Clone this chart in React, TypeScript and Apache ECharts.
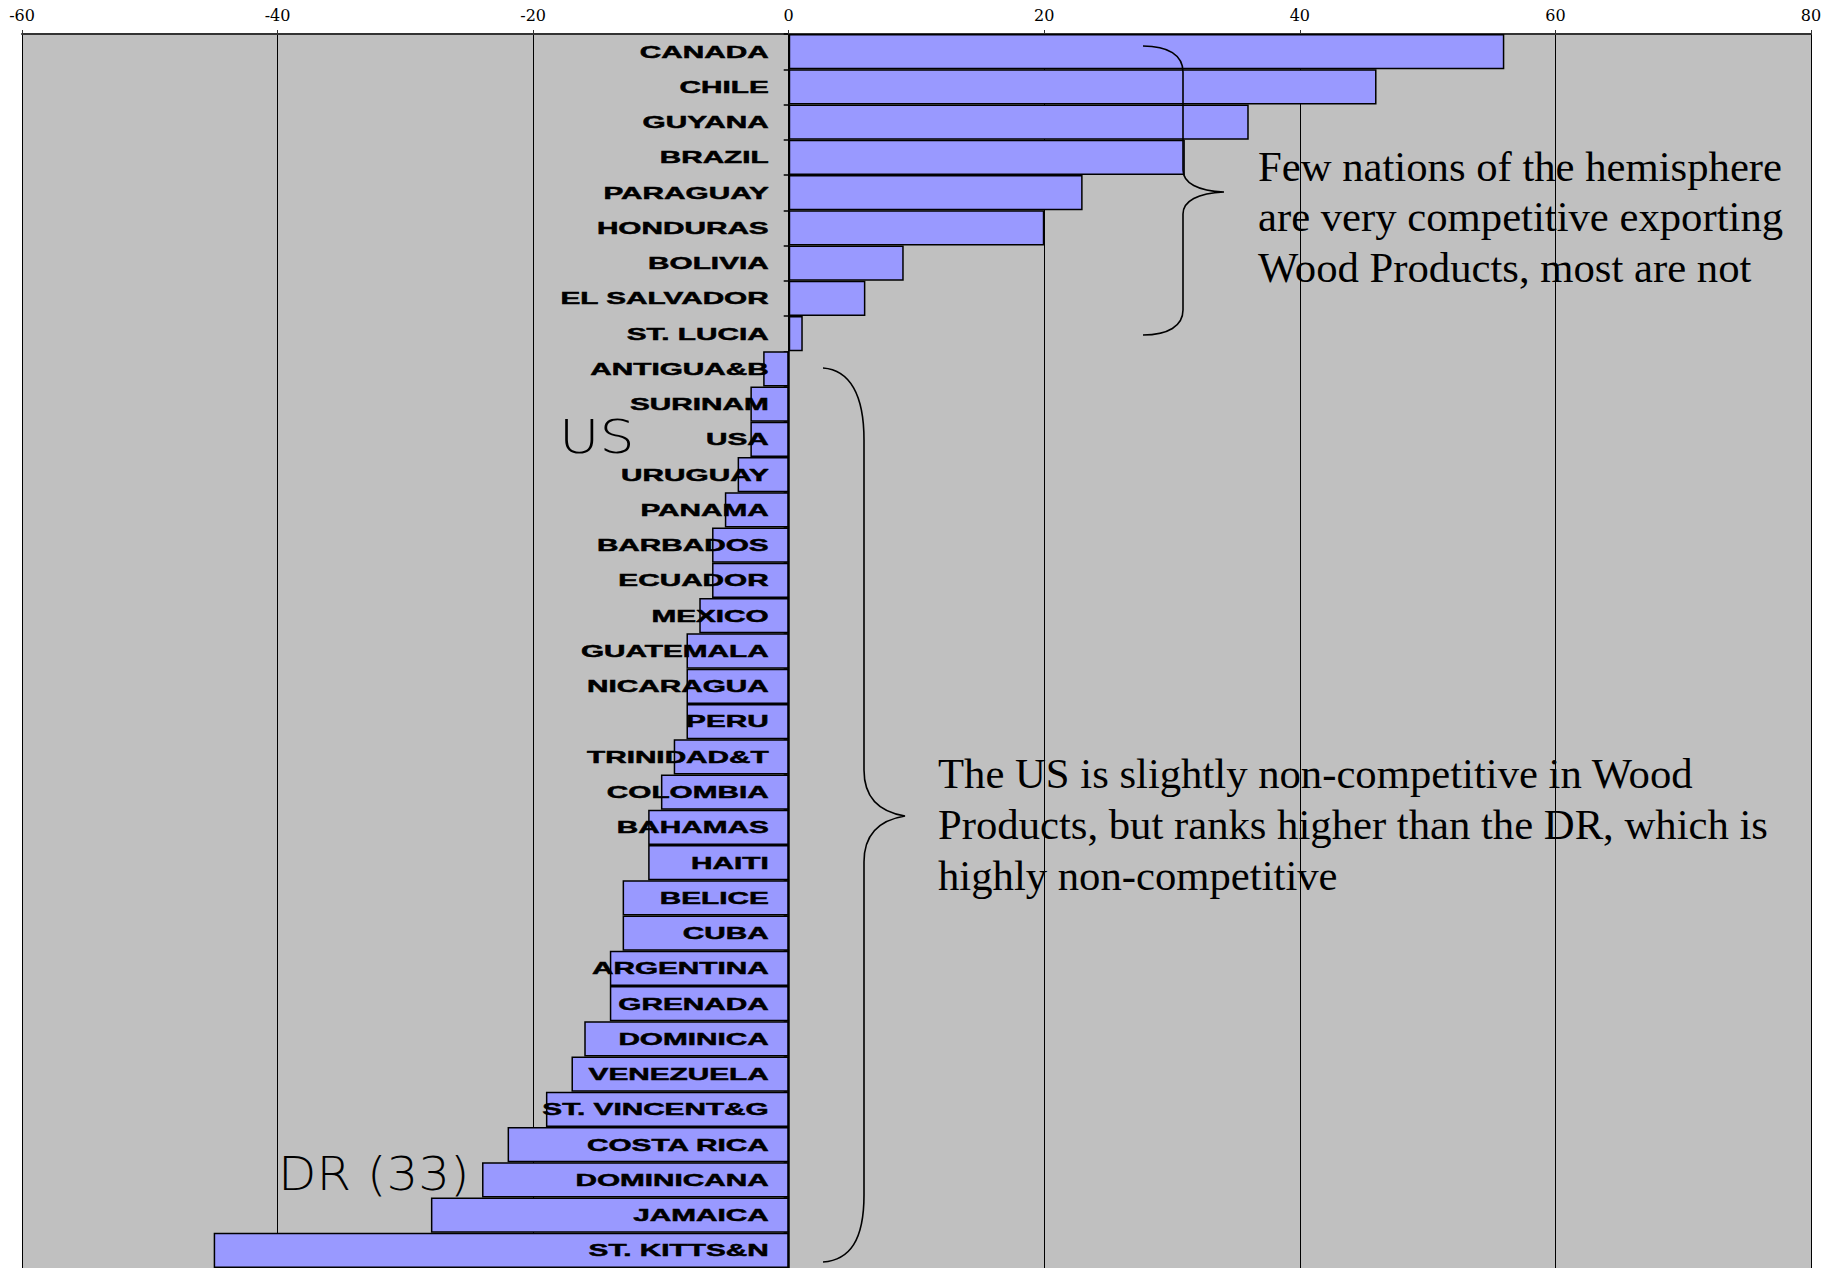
import React, { useEffect, useRef } from "react";
import * as echarts from "echarts";

const categories = [
  "CANADA", "CHILE", "GUYANA", "BRAZIL", "PARAGUAY", "HONDURAS", "BOLIVIA",
  "EL SALVADOR", "ST. LUCIA", "ANTIGUA&B", "SURINAM", "USA", "URUGUAY",
  "PANAMA", "BARBADOS", "ECUADOR", "MEXICO", "GUATEMALA", "NICARAGUA", "PERU",
  "TRINIDAD&T", "COLOMBIA", "BAHAMAS", "HAITI", "BELICE", "CUBA", "ARGENTINA",
  "GRENADA", "DOMINICA", "VENEZUELA", "ST. VINCENT&G", "COSTA RICA",
  "DOMINICANA", "JAMAICA", "ST. KITTS&N",
];

const values = [
  56, 46, 36, 31, 23, 20, 9, 6, 1.1, -2, -3, -3, -4, -5, -6, -6, -7, -8, -8,
  -8, -9, -10, -11, -11, -13, -13, -14, -14, -16, -17, -19, -22, -24, -28, -45,
];

const xMin = -60;
const xMax = 80;
const xStep = 20;

const noteTop = [
  "Few nations of the hemisphere",
  "are very competitive exporting",
  "Wood Products, most are not",
];
const noteBottom = [
  "The US is slightly non-competitive in Wood",
  "Products, but ranks higher than the DR, which is",
  "highly non-competitive",
];
const markUS = "US";
const markDR = "DR (33)";

const braceTopD =
  "M1143,46 C1168,46 1183,55 1183,72 L1183,170 C1183,183 1198,191 1224,192 C1198,193 1183,201 1183,214 L1183,310 C1183,326 1168,335 1143,335";
const braceBottomD =
  "M823,368 C850,370 864,395 864,440 L864,770 C864,798 880,812 905,816 C880,820 864,834 864,862 L864,1195 C864,1240 850,1260 823,1262";

echarts.graphic.registerShape("braceTop", echarts.graphic.extendPath(braceTopD, {}));
echarts.graphic.registerShape("braceBottom", echarts.graphic.extendPath(braceBottomD, {}));

export default function App() {
  const ref = useRef<HTMLDivElement>(null);

  useEffect(() => {
    document.body.style.margin = "0";
    const chart = echarts.init(ref.current as HTMLDivElement, undefined, { renderer: "svg" });
    const option: any = {
      animation: false,
      backgroundColor: "#ffffff",
      grid: {
        left: 22,
        top: 34,
        width: 1789,
        height: 1245,
        show: true,
        backgroundColor: "#C0C0C0",
        borderWidth: 0,
        containLabel: false,
      },
      xAxis: {
        type: "value",
        position: "top",
        min: xMin,
        max: xMax,
        interval: xStep,
        axisLine: { show: true, lineStyle: { color: "#333333", width: 2 } },
        axisTick: { show: true, length: 4, lineStyle: { color: "#333333", width: 1 } },
        axisLabel: {
          margin: 11,
          color: "#000",
          fontFamily: "DejaVu Serif",
          fontSize: 16,
        },
        splitLine: { show: true, lineStyle: { color: "#000", width: 1 } },
      },
      yAxis: {
        type: "category",
        inverse: true,
        data: categories,
        axisLine: { show: true, onZero: true, lineStyle: { color: "#000", width: 1.5 } },
        axisTick: { show: true, length: 5, lineStyle: { color: "#000", width: 1.5 } },
        axisLabel: { show: false },
        splitLine: { show: false },
      },
      series: [
        {
          type: "bar",
          data: values,
          barCategoryGap: "0%",
          itemStyle: { color: "#9999FF", borderColor: "#000", borderWidth: 1.5 },
          z: 2,
        },
        {
          type: "custom",
          z: 5,
          clip: false,
          data: categories.map((_, i) => [0, i]),
          encode: { x: 0, y: 1 },
          renderItem: (params: any, api: any) => {
            const i = api.value(1);
            const p = api.coord([0, i]);
            return {
              type: "text",
              x: p[0] - 20,
              y: p[1],
              scaleX: 1.75,
              style: {
                text: categories[i],
                align: "right",
                verticalAlign: "middle",
                fontFamily: "Liberation Sans",
                fontWeight: "bold",
                fontSize: 17,
                fill: "#000",
                stroke: "#000",
                lineWidth: 0.5,
              },
            };
          },
        },
      ],
      graphic: [
        {
          type: "braceTop",
          x: 0,
          y: 0,
          z: 10,
          style: { stroke: "#000", fill: "none", lineWidth: 1.6 },
        },
        {
          type: "braceBottom",
          x: 0,
          y: 0,
          z: 10,
          style: { stroke: "#000", fill: "none", lineWidth: 1.6 },
        },
        {
          type: "text",
          x: 1258,
          y: 141,
          z: 10,
          style: {
            text: noteTop.join("\n"),
            fontFamily: "Liberation Serif",
            fontSize: 42.7,
            lineHeight: 50.5,
            fill: "#000",
            align: "left",
            verticalAlign: "top",
          },
        },
        {
          type: "text",
          x: 938,
          y: 748,
          z: 10,
          style: {
            text: noteBottom.join("\n"),
            fontFamily: "Liberation Serif",
            fontSize: 42.7,
            lineHeight: 51,
            fill: "#000",
            align: "left",
            verticalAlign: "top",
          },
        },
        {
          type: "text",
          x: 559,
          y: 437,
          z: 10,
          scaleX: 1.2,
          style: {
            text: markUS,
            fontFamily: "DejaVu Sans",
            fontWeight: 200,
            fontSize: 46,
            fill: "#000",
            align: "left",
            verticalAlign: "middle",
          },
        },
        {
          type: "text",
          x: 278,
          y: 1174,
          z: 10,
          scaleX: 1.085,
          style: {
            text: markDR,
            fontFamily: "DejaVu Sans",
            fontWeight: 200,
            fontSize: 46,
            fill: "#000",
            align: "left",
            verticalAlign: "middle",
          },
        },
      ],
    };
    chart.setOption(option);
    return () => chart.dispose();
  }, []);

  return (
    <div
      ref={ref}
      style={{ position: "absolute", left: 0, top: 0, width: 1835, height: 1268 }}
    />
  );
}
